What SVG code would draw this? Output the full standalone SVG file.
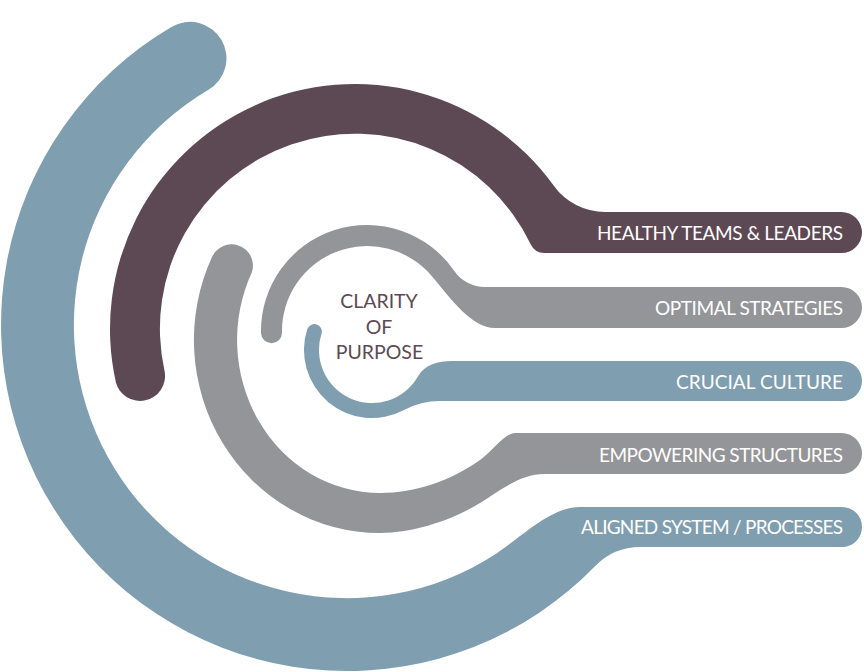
<svg xmlns="http://www.w3.org/2000/svg" width="864" height="672" viewBox="0 0 864 672">
<style>
.blue{fill:#7f9eaf}
.purple{fill:#5d4954}
.gray{fill:#949598}
.lbl{font-family:"Lato","Open Sans","Liberation Sans",sans-serif;font-size:19px;fill:#ffffff;text-anchor:end}
.ctr{font-family:"Lato","Open Sans","Liberation Sans",sans-serif;font-size:19.5px;fill:#5d4954;text-anchor:middle}
</style>
<rect width="864" height="672" fill="#ffffff"/>
<g id="aligned-system">
<path class="blue" d="M 171.4 26.9 A 346 346 0 1 0 595.5 565.8 A 62.2 62.2 0 0 1 640 547 L 842 547 A 20 20 0 0 0 842 507 L 580 507 C 550 507 520.9 537.7 495.7 554 A 273 273 0 1 1 208.5 89.8 A 36.5 36.5 0 0 0 171.4 26.9 Z"/>
<text class="lbl" x="843" y="533.5" textLength="262">ALIGNED SYSTEM / PROCESSES</text>
</g>
<g id="healthy-teams">
<path class="purple" d="M 115.8 382 A 245 245 0 0 1 553.8 185.8 A 63.1 63.1 0 0 0 605 212 L 841.5 212 A 20.5 20.5 0 0 1 841.5 253 L 544.3 253 A 15 15 0 0 1 530.8 244.5 A 195 195 0 0 0 164.6 371.2 A 25 25 0 0 1 115.8 382 Z"/>
<text class="lbl" x="843" y="240" textLength="246">HEALTHY TEAMS &amp; LEADERS</text>
</g>
<g id="empowering-structures">
<path class="gray" d="M 212 257 A 186 193 0 0 0 380 533 C 415 533 454.5 518.9 480 503 C 501.3 489.8 520 474 545 474 L 841.5 474 A 20.5 20.5 0 0 0 841.5 433 L 515 433 C 505 433 492.2 451.3 480 460 C 451.6 480.4 415 493 380 493 A 143 153 0 0 1 252 272 A 21.4 21.4 0 0 0 212 257 Z"/>
<text class="lbl" x="843" y="461.5" textLength="244">EMPOWERING STRUCTURES</text>
</g>
<g id="optimal-strategies">
<path class="gray" d="M 261 332.9 A 106 106 0 0 1 454.3 270.9 A 37.3 37.3 0 0 0 485 287 L 841.5 287 A 20.5 20.5 0 0 1 841.5 328 L 495 328 C 472 328 451.4 299.4 432.1 276.4 A 85 85 0 0 0 282 332.5 A 10.5 10.5 0 0 1 261 332.9 Z"/>
<text class="lbl" x="843" y="315" textLength="188">OPTIMAL STRATEGIES</text>
</g>
<g id="crucial-culture">
<path class="blue" d="M 307.3 329 A 68 68 0 0 0 404 410 A 76.5 76.5 0 0 1 440 401 L 842 401 A 20 20 0 0 0 842 361 L 452 361 C 438 361 424.9 364.4 417.9 376.5 A 53 53 0 0 1 321.6 333.6 A 7.52 7.52 0 0 0 307.3 329 Z"/>
<text class="lbl" x="843" y="388.5" textLength="167">CRUCIAL CULTURE</text>
</g>
<g id="clarity-of-purpose">
<text class="ctr" x="379" y="307.5">CLARITY</text>
<text class="ctr" x="379" y="333.5">OF</text>
<text class="ctr" x="379.5" y="358.5">PURPOSE</text>
</g>
<g id="connectors"/>
</svg>
